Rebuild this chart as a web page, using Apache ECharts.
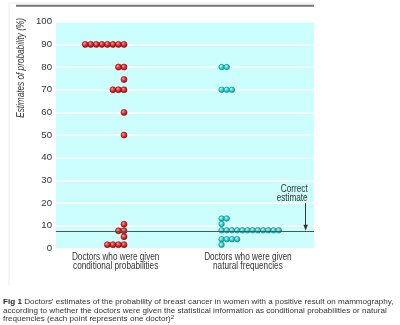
<!DOCTYPE html>
<html>
<head>
<meta charset="utf-8">
<script src="https://cdn.jsdelivr.net/npm/echarts@6/dist/echarts.min.js"></script>
<style>
  html, body { margin: 0; padding: 0; background: #fff; }
  #chart { width: 400px; height: 325px; }
</style>
</head>
<body>
<div id="chart"></div>
<script>
// Group labels under the two dot columns
const groupNames = [
  'Doctors who were given\nconditional probabilities',
  'Doctors who were given\nnatural frequencies'
];
// One estimate (%) per doctor
const conditionalEstimates = [90, 90, 90, 90, 90, 90, 90, 90, 80, 80, 74.5, 70, 70, 70, 60, 50,
  10.7, 7.8, 7.8, 5.2, 1.7, 1.7, 1.7, 1.7];
const naturalEstimates = [80, 80, 70, 70, 70, 13.2, 13.2, 10.8,
  8, 8, 8, 8, 8, 8, 8, 8, 8, 8, 8, 8, 4.1, 4.1, 4.1, 4.1, 1.6];
const correctEstimate = 7.8;
const yTickValues = [0, 10, 20, 30, 40, 50, 60, 70, 80, 90, 100];

const SANS = "'Liberation Sans', Arial, sans-serif";
const NARROW_SCALE = 0.82; // condensed look for the chart lettering

// Stack equal estimates side by side: right-aligned or left-aligned at an anchor slot
function stackDots(values, anchor, step, dir) {
  const counts = {};
  return values.map(v => {
    const k = String(v);
    const i = counts[k] || 0;
    counts[k] = i + 1;
    return [anchor + dir * i * step, v];
  });
}

const conditionalDots = stackDots(conditionalEstimates, 12.65, 1.03, -1);
const naturalDots = stackDots(naturalEstimates, 30.8, 0.967, 1);

const labelSlots = [11.1, 35.7];
const arrowSlot = 46.45;

const chart = echarts.init(document.getElementById('chart'), null, { renderer: 'canvas' });

chart.setOption({
  animation: false,
  backgroundColor: '#ffffff',
  grid: {
    left: 56, right: 86, top: 21.7, bottom: 76.5,
    show: true, backgroundColor: '#ccfefe', borderWidth: 0
  },
  xAxis: {
    type: 'value', min: 0, max: 48,
    axisLine: { show: false }, axisTick: { show: false }, splitLine: { show: false },
    axisLabel: { show: false }
  },
  yAxis: {
    type: 'value', min: 0, max: 100, interval: 10,
    axisLine: { show: false }, axisTick: { show: false },
    splitLine: { show: true, lineStyle: { color: '#ffffff', width: 1.5 } },
    axisLabel: {
      fontFamily: SANS, fontSize: 9.6, color: '#333', margin: 4,
      formatter: v => yTickValues.includes(v) ? String(v) : ''
    }
  },
  series: [
    {
      // horizontal line at the correct estimate
      type: 'line', data: [], z: 1,
      markLine: {
        silent: true, animation: false,
        symbol: ['none', 'none'],
        label: { show: false },
        lineStyle: { color: '#4b5858', width: 1.2, type: 'solid' },
        data: [{ yAxis: correctEstimate }]
      }
    },
    {
      // arrow pointing down to the correct estimate
      type: 'line', data: [], z: 2,
      markLine: {
        silent: true, animation: false,
        symbol: ['none', 'triangle'],
        symbolSize: [4.5, 6],
        label: { show: false },
        lineStyle: { color: '#333333', width: 1, type: 'solid' },
        data: [[
          { coord: [arrowSlot, 20] },
          { coord: [arrowSlot, correctEstimate + 1.3] }
        ]]
      }
    },
    {
      name: 'conditional', type: 'scatter', z: 3,
      symbol: 'circle', symbolSize: 6,
      data: conditionalDots,
      itemStyle: {
        color: {
          type: 'radial', x: 0.38, y: 0.35, r: 0.7,
          colorStops: [
            { offset: 0, color: '#ff9a9a' },
            { offset: 0.5, color: '#e8282a' },
            { offset: 1, color: '#a00808' }
          ]
        },
        borderColor: '#7a0000', borderWidth: 0.6, opacity: 1
      }
    },
    {
      name: 'natural', type: 'scatter', z: 3,
      symbol: 'circle', symbolSize: 5.5,
      data: naturalDots,
      itemStyle: {
        color: {
          type: 'radial', x: 0.38, y: 0.35, r: 0.7,
          colorStops: [
            { offset: 0, color: '#b4ffff' },
            { offset: 0.5, color: '#20d8d8' },
            { offset: 1, color: '#109494' }
          ]
        },
        borderColor: '#1b7070', borderWidth: 0.6, opacity: 1
      }
    }
  ]
});

const arrowTop = chart.convertToPixel({ gridIndex: 0 }, [arrowSlot, 20]);
const labelTop = chart.convertToPixel({ gridIndex: 0 }, [0, 0])[1] + 4.5;

const groupLabels = groupNames.map((name, i) => ({
  type: 'text', silent: true,
  x: chart.convertToPixel({ gridIndex: 0 }, [labelSlots[i], 0])[0],
  y: labelTop,
  scaleX: NARROW_SCALE,
  style: {
    text: name, font: '10px ' + SANS, fill: '#333', lineHeight: 9,
    align: 'center', verticalAlign: 'top'
  }
}));

chart.setOption({
  graphic: [
    // faint page frame
    { type: 'line', shape: { x1: 9, y1: 3, x2: 314, y2: 3 }, style: { stroke: '#ececec', lineWidth: 1 }, silent: true },
    { type: 'line', shape: { x1: 9, y1: 3, x2: 9, y2: 285 }, style: { stroke: '#ececec', lineWidth: 1 }, silent: true },
    // heading rule
    { type: 'line', shape: { x1: 16, y1: 5.8, x2: 314, y2: 5.8 }, style: { stroke: '#777777', lineWidth: 2 }, silent: true },
    // y axis title
    {
      type: 'text', x: 21, y: 18, rotation: Math.PI / 2, scaleX: NARROW_SCALE, silent: true,
      style: {
        text: 'Estimates of probability (%)',
        font: 'italic 10px ' + SANS, fill: '#333',
        align: 'right', verticalAlign: 'middle'
      }
    },
    // annotation for the arrow
    {
      type: 'text', x: arrowTop[0] + 2, y: arrowTop[1] - 0.5, scaleX: NARROW_SCALE, silent: true,
      style: {
        text: 'Correct\nestimate',
        font: '10px ' + SANS, fill: '#333', lineHeight: 9,
        align: 'right', verticalAlign: 'bottom'
      }
    },
    ...groupLabels,
    // figure caption
    {
      type: 'text', x: 3, y: 298, silent: true,
      style: {
        text: '{b|Fig 1} Doctors\' estimates of the probability of breast cancer in women with a positive result on mammography,\n' +
              'according to whether the doctors were given the statistical information as conditional probabilities or natural\n' +
              'frequencies (each point represents one doctor){s|2}',
        fontFamily: SANS, fontSize: 8.1, fill: '#333', lineHeight: 8.4,
        align: 'left', verticalAlign: 'top',
        rich: {
          b: { fontFamily: SANS, fontSize: 8.1, fontWeight: 'bold', fill: '#222', lineHeight: 8.4 },
          s: { fontFamily: SANS, fontSize: 5.8, fill: '#333', verticalAlign: 'top', lineHeight: 8.4 }
        }
      }
    }
  ]
});
</script>
</body>
</html>
